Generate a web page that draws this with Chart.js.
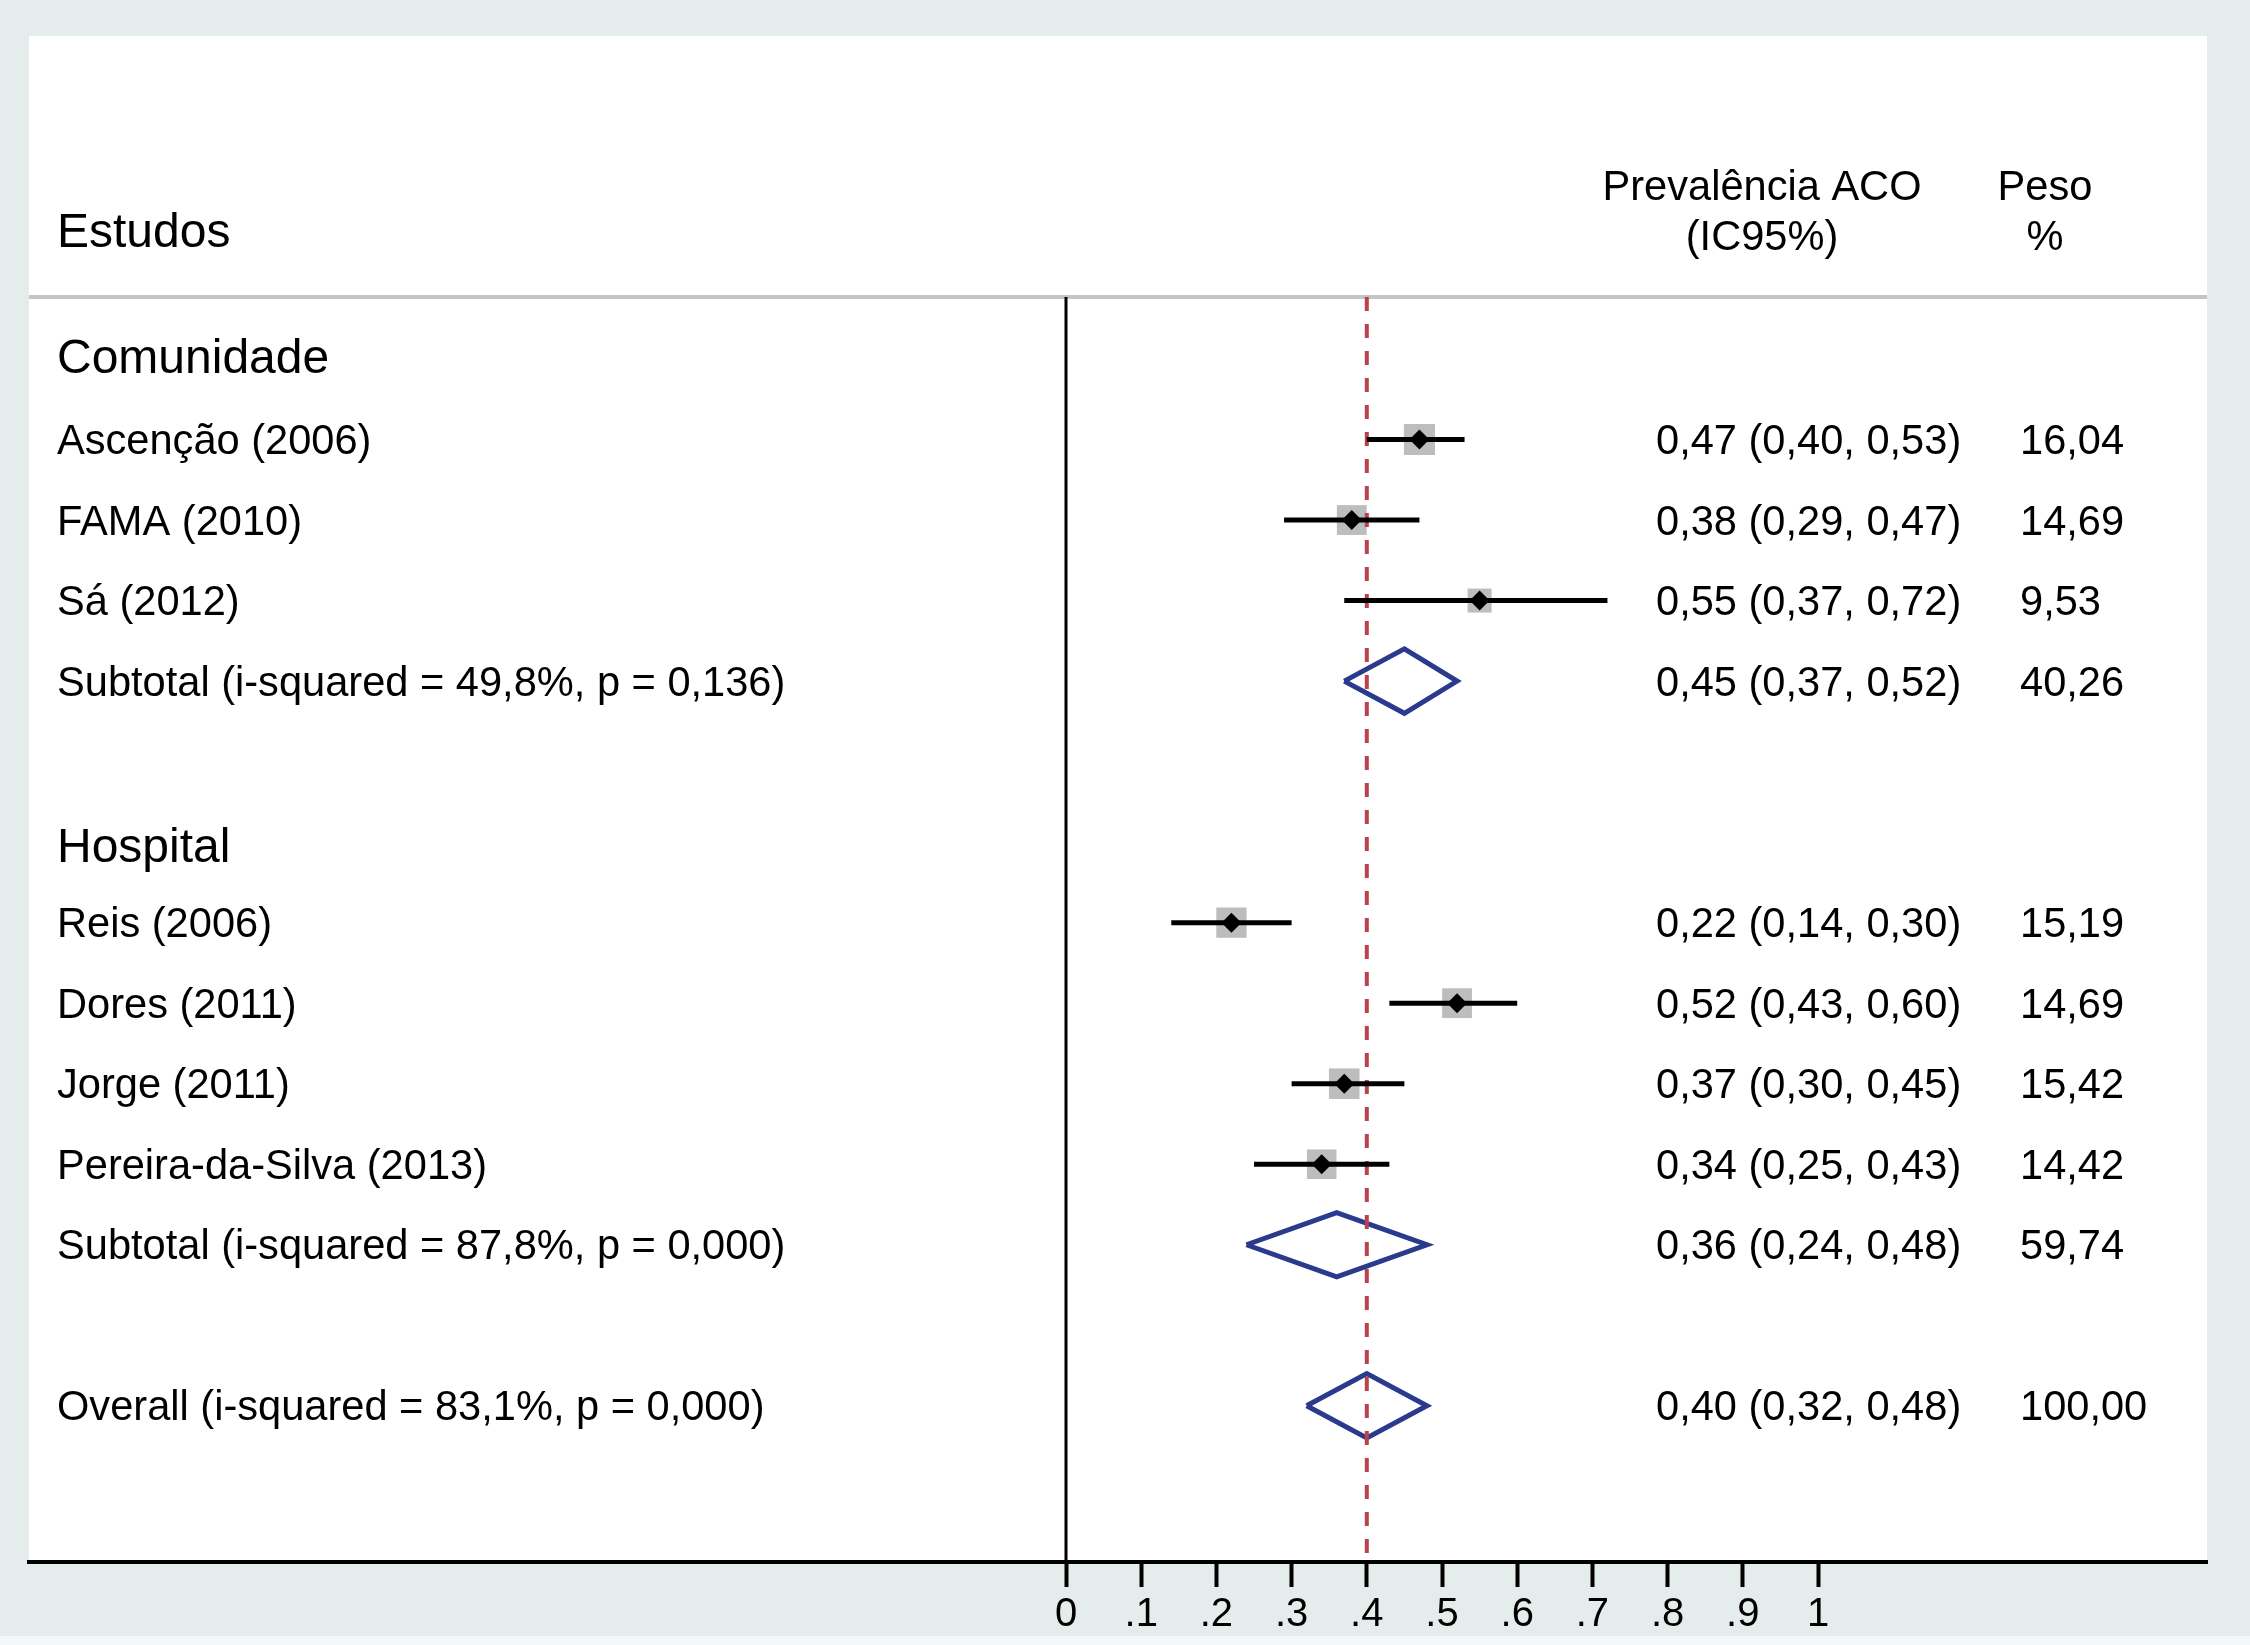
<!DOCTYPE html>
<html>
<head>
<meta charset="utf-8">
<script src="https://cdn.jsdelivr.net/npm/chart.js@4.4.1/dist/chart.umd.min.js"></script>
<style>
  html, body { margin: 0; padding: 0; background: #e4edec; }
  #wrap { width: 2250px; height: 1645px; }
</style>
</head>
<body>
<div id="wrap"><canvas id="forest" width="2250" height="1645"></canvas></div>
<script>
// subgroup headings and the row they sit on
const groups = ['Comunidade', 'Hospital'];
const groupRows = [-0.03, 6.04];

// individual studies
const studies = ['Ascenção (2006)', 'FAMA (2010)', 'Sá (2012)', 'Reis (2006)',
                 'Dores (2011)', 'Jorge (2011)', 'Pereira-da-Silva (2013)'];
const studyRows = [1, 2, 3, 7, 8, 9, 10];
const studyEst = [0.47, 0.38, 0.55, 0.22, 0.52, 0.37, 0.34];
const studyLo  = [0.40, 0.29, 0.37, 0.14, 0.43, 0.30, 0.25];
const studyHi  = [0.53, 0.47, 0.72, 0.30, 0.60, 0.45, 0.43];
const studyWeight = [16.04, 14.69, 9.53, 15.19, 14.69, 15.42, 14.42];

// subtotals + overall
const pooled = ['Subtotal (i-squared = 49,8%, p = 0,136)',
                'Subtotal (i-squared = 87,8%, p = 0,000)',
                'Overall (i-squared = 83,1%, p = 0,000)'];
const pooledRows = [4, 11, 13];
const pooledEst = [0.45, 0.36, 0.40];
const pooledLo  = [0.37, 0.24, 0.32];
const pooledHi  = [0.52, 0.48, 0.48];
const pooledWeight = [40.26, 59.74, 100.00];

const xTicks = [0, 0.1, 0.2, 0.3, 0.4, 0.5, 0.6, 0.7, 0.8, 0.9, 1];
const tickLabels = ['0', '.1', '.2', '.3', '.4', '.5', '.6', '.7', '.8', '.9', '1'];

const FONT = '"Liberation Sans", Arial, Helvetica, sans-serif';
const Y_MIN = -0.77, Y_MAX = 14.94;
const overall = pooledEst[2];

const fmt = v => v.toFixed(2).replace('.', ',');

const datasets = [];

// black centre diamonds (on top)
datasets.push({
  data: studyRows.map((r, i) => ({ x: studyEst[i], y: r })),
  pointStyle: 'rectRot', pointRadius: 10, pointBackgroundColor: '#000',
  pointBorderWidth: 0, showLine: false, order: 0
});

// confidence intervals
studyRows.forEach((r, i) => {
  datasets.push({
    data: [{ x: studyLo[i], y: r }, { x: studyHi[i], y: r }],
    showLine: true, borderColor: '#000', borderWidth: 5, pointRadius: 0,
    borderCapStyle: 'butt', order: 1
  });
});

// overall estimate, dashed
datasets.push({
  data: [{ x: overall, y: Y_MIN }, { x: overall, y: Y_MAX }],
  showLine: true, borderColor: '#b8424e', borderWidth: 4, borderDash: [14, 13],
  pointRadius: 0, order: 2
});

// pooled diamonds
pooledRows.forEach((r, i) => {
  datasets.push({
    data: [{ x: pooledLo[i], y: r }, { x: pooledEst[i], y: r - 0.4 },
           { x: pooledHi[i], y: r }, { x: pooledEst[i], y: r + 0.4 },
           { x: pooledLo[i], y: r }],
    showLine: true, borderColor: '#2a3a8c', borderWidth: 5, pointRadius: 0,
    borderJoinStyle: 'miter', fill: false, tension: 0, order: 3
  });
});

// grey weight boxes, area ~ weight
datasets.push({
  data: studyRows.map((r, i) => ({ x: studyEst[i], y: r })),
  pointStyle: 'rect', pointRadius: studyWeight.map(w => 5.5 * Math.sqrt(w)),
  pointBackgroundColor: '#bdbdbd', pointBorderWidth: 0, showLine: false, order: 4
});

// null line at 0
datasets.push({
  data: [{ x: 0, y: Y_MIN }, { x: 0, y: Y_MAX }],
  showLine: true, borderColor: '#000', borderWidth: 3, pointRadius: 0, order: 5
});

const panel = {
  id: 'panel',
  beforeDraw(chart) {
    const { ctx, chartArea: a } = chart;
    ctx.save();
    ctx.fillStyle = '#e4edec';
    ctx.fillRect(0, 0, chart.width, chart.height);
    ctx.fillStyle = '#f3f7f7';
    ctx.fillRect(0, 1636, chart.width, chart.height - 1636);
    ctx.fillStyle = '#ffffff';
    ctx.fillRect(a.left, 36, a.right - a.left, a.bottom - 36);
    ctx.strokeStyle = '#c4c4c4';
    ctx.lineWidth = 4;
    ctx.beginPath();
    ctx.moveTo(a.left, a.top);
    ctx.lineTo(a.right, a.top);
    ctx.stroke();
    ctx.restore();
  },
  afterDraw(chart) {
    const { ctx } = chart;
    const ys = chart.scales.y;
    const labelX = 57, ciX = 1656, wX = 2020, dy = 3;
    ctx.save();
    ctx.fillStyle = '#000';
    ctx.textBaseline = 'middle';

    // header
    ctx.textAlign = 'left';
    ctx.font = '48px ' + FONT;
    ctx.fillText('Estudos', labelX, 234);
    ctx.font = '41.6px ' + FONT;
    ctx.textAlign = 'center';
    ctx.fillText('Prevalência ACO', 1762, 189);
    ctx.fillText('(IC95%)', 1762, 239);
    ctx.fillText('Peso', 2045, 189);
    ctx.fillText('%', 2045, 239);

    ctx.textAlign = 'left';
    ctx.font = '48px ' + FONT;
    groups.forEach((g, i) => ctx.fillText(g, labelX, ys.getPixelForValue(groupRows[i]) + dy));

    ctx.font = '41.6px ' + FONT;
    studies.forEach((s, i) => {
      const y = ys.getPixelForValue(studyRows[i]) + dy;
      ctx.fillText(s, labelX, y);
      ctx.fillText(fmt(studyEst[i]) + ' (' + fmt(studyLo[i]) + ', ' + fmt(studyHi[i]) + ')', ciX, y);
      ctx.fillText(fmt(studyWeight[i]), wX, y);
    });
    pooled.forEach((s, i) => {
      const y = ys.getPixelForValue(pooledRows[i]) + dy;
      ctx.fillText(s, labelX, y);
      ctx.fillText(fmt(pooledEst[i]) + ' (' + fmt(pooledLo[i]) + ', ' + fmt(pooledHi[i]) + ')', ciX, y);
      ctx.fillText(fmt(pooledWeight[i]), wX, y);
    });
    ctx.restore();
  }
};

new Chart(document.getElementById('forest'), {
  type: 'scatter',
  data: { datasets },
  options: {
    responsive: false,
    devicePixelRatio: 1,
    animation: false,
    layout: { padding: { top: 297, left: 29, right: 43, bottom: 0 } },
    plugins: { legend: { display: false }, tooltip: { enabled: false } },
    scales: {
      x: {
        type: 'linear',
        min: (29 - 1066) / 752,
        max: (2207 - 1066) / 752,
        afterBuildTicks: s => { s.ticks = xTicks.map(v => ({ value: v })); },
        afterFit: s => { s.height = 83; },
        border: { display: true, color: '#000', width: 4 },
        grid: { display: true, drawOnChartArea: false, drawTicks: true,
                tickLength: 25, tickWidth: 4, tickColor: '#000' },
        ticks: {
          autoSkip: false, maxRotation: 0, padding: 4, color: '#000',
          font: { family: FONT, size: 40 },
          callback: (v) => tickLabels[xTicks.findIndex(t => Math.abs(t - v) < 1e-6)]
        }
      },
      y: {
        type: 'linear', reverse: true, min: Y_MIN, max: Y_MAX, display: false
      }
    }
  },
  plugins: [panel]
});
</script>
</body>
</html>
